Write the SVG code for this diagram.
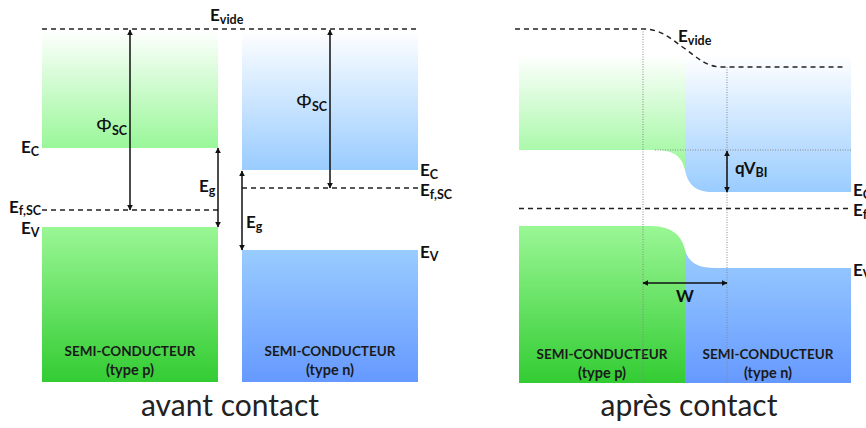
<svg xmlns="http://www.w3.org/2000/svg" width="866" height="428" viewBox="0 0 866 428">
<defs>
<linearGradient id="gUp" x1="0" y1="0" x2="0" y2="1"><stop offset="0" stop-color="#ffffff"/><stop offset="1" stop-color="#99f799"/></linearGradient>
<linearGradient id="gLow" x1="0" y1="0" x2="0" y2="1"><stop offset="0" stop-color="#9af795"/><stop offset="1" stop-color="#33cc33"/></linearGradient>
<linearGradient id="bUp" x1="0" y1="0" x2="0" y2="1"><stop offset="0" stop-color="#ffffff"/><stop offset="1" stop-color="#99ccff"/></linearGradient>
<linearGradient id="bLow" x1="0" y1="0" x2="0" y2="1"><stop offset="0" stop-color="#99ccff"/><stop offset="1" stop-color="#6699ff"/></linearGradient>
<marker id="ah" viewBox="0 0 10 10" refX="9" refY="5" markerWidth="6" markerHeight="6" orient="auto-start-reverse" markerUnits="userSpaceOnUse"><path d="M0,0 L10,5 L0,10 Z" fill="#111"/></marker>
<style>
.lbl{font-family:Lato,"Open Sans","Liberation Sans",sans-serif;font-weight:700;font-size:17px;fill:#111}
.sub{font-size:12.5px}
.phi{font-family:"Liberation Sans","DejaVu Sans",sans-serif;font-weight:400;font-size:20px;fill:#111}
.sc{font-family:Lato,"Open Sans","Liberation Sans",sans-serif;font-weight:700;font-size:13.5px;fill:#1a1a1a}
.ty{font-size:14.5px}
.title{font-family:Lato,"Open Sans","Liberation Sans",sans-serif;font-weight:400;font-size:30px;fill:#222}
.dash{stroke:#222;stroke-width:1.5;stroke-dasharray:5 4;fill:none}
.dot{stroke:#888;stroke-width:1;stroke-dasharray:1 1.5;fill:none}
.arr{stroke:#111;stroke-width:1.5;fill:none;marker-start:url(#ah);marker-end:url(#ah)}
</style>
</defs>
<rect width="866" height="428" fill="#ffffff"/>

<!-- Left panel: avant contact -->
<g id="p-type-before">
<rect x="42" y="30" width="176" height="118" fill="url(#gUp)"/>
<rect x="42" y="227" width="176" height="155" fill="url(#gLow)"/>
<text class="sc" x="130" y="356" text-anchor="middle">SEMI-CONDUCTEUR</text>
<text class="sc ty" x="130" y="375" text-anchor="middle">(type p)</text>
</g>
<g id="n-type-before">
<rect x="242" y="30" width="176" height="140" fill="url(#bUp)"/>
<rect x="242" y="250" width="176" height="132" fill="url(#bLow)"/>
<text class="sc" x="330" y="356" text-anchor="middle">SEMI-CONDUCTEUR</text>
<text class="sc ty" x="330" y="375" text-anchor="middle">(type n)</text>
</g>

<!-- Right panel: après contact -->
<g id="p-type-after">
<path d="M519,55 H685 V170 C682,158 676,150 655,150 H519 Z" fill="url(#gUp)"/>
<path d="M519,226 H650 C675,226 682,238 685,250 V383 H519 Z" fill="url(#gLow)"/>
<text class="sc" x="602" y="359" text-anchor="middle">SEMI-CONDUCTEUR</text>
<text class="sc ty" x="602" y="378" text-anchor="middle">(type p)</text>
</g>
<g id="n-type-after">
<path d="M685,55 H851 V192 H712 C697,192 688,186 685,170 Z" fill="url(#bUp)"/>
<path d="M685,250 C689,264 700,268 715,268 H851 V383 H685 Z" fill="url(#bLow)"/>
<text class="sc" x="768" y="359" text-anchor="middle">SEMI-CONDUCTEUR</text>
<text class="sc ty" x="768" y="378" text-anchor="middle">(type n)</text>
</g>

<g id="connectors">
<line class="dash" x1="42" y1="29" x2="420" y2="29"/>
<line class="dash" x1="42" y1="210" x2="218" y2="210"/>
<line class="dash" x1="242" y1="188" x2="420" y2="188"/>
<line class="arr" x1="130" y1="30" x2="130" y2="210"/>
<line class="arr" x1="330" y1="30" x2="330" y2="188"/>
<line class="arr" x1="218" y1="148" x2="218" y2="227"/>
<line class="arr" x1="242" y1="171" x2="242" y2="250"/>
<path class="dash" d="M515,29 H643 C662,29 672,40 684,48 C698,58 706,67 722,67 H843"/>
<line class="dash" x1="519" y1="208.5" x2="851" y2="208.5"/>
<line class="dot" x1="643" y1="29" x2="643" y2="383"/>
<line class="dot" x1="727" y1="67" x2="727" y2="383"/>
<line class="dot" x1="655" y1="150" x2="851" y2="150"/>
<line class="arr" x1="727" y1="151" x2="727" y2="192"/>
<line class="arr" x1="643" y1="283" x2="727" y2="283"/>
</g>

<g id="labels">
<text class="lbl" x="210" y="21">E<tspan class="sub" dy="3">vide</tspan></text>
<text class="phi" x="96" y="132">Φ<tspan class="lbl sub" dy="3">SC</tspan></text>
<text class="phi" x="296" y="108">Φ<tspan class="lbl sub" dy="3">SC</tspan></text>
<text class="lbl" x="21" y="153">E<tspan class="sub" dy="3">C</tspan></text>
<text class="lbl" x="9" y="213">E<tspan class="sub" dy="2">f,SC</tspan></text>
<text class="lbl" x="21" y="234">E<tspan class="sub" dy="3">V</tspan></text>
<text class="lbl" x="199" y="192">E<tspan class="sub" dy="3">g</tspan></text>
<text class="lbl" x="246" y="228">E<tspan class="sub" dy="3">g</tspan></text>
<text class="lbl" x="420" y="176">E<tspan class="sub" dy="3">C</tspan></text>
<text class="lbl" x="420" y="196">E<tspan class="sub" dy="3">f,SC</tspan></text>
<text class="lbl" x="420" y="258">E<tspan class="sub" dy="3">V</tspan></text>
<text class="lbl" x="678" y="42">E<tspan class="sub" dy="3">vide</tspan></text>
<text class="lbl" x="735" y="174">qV<tspan class="sub" dy="3">BI</tspan></text>
<text class="lbl" x="853" y="196">E<tspan class="sub" dy="3">C</tspan></text>
<text class="lbl" x="853" y="216">E<tspan class="sub" dy="3">f</tspan></text>
<text class="lbl" x="853" y="276">E<tspan class="sub" dy="3">V</tspan></text>
<text class="lbl" x="685" y="302" text-anchor="middle">W</text>
<text class="title" x="230" y="416" text-anchor="middle">avant contact</text>
<text class="title" x="689" y="416" text-anchor="middle">après contact</text>
</g>
</svg>
